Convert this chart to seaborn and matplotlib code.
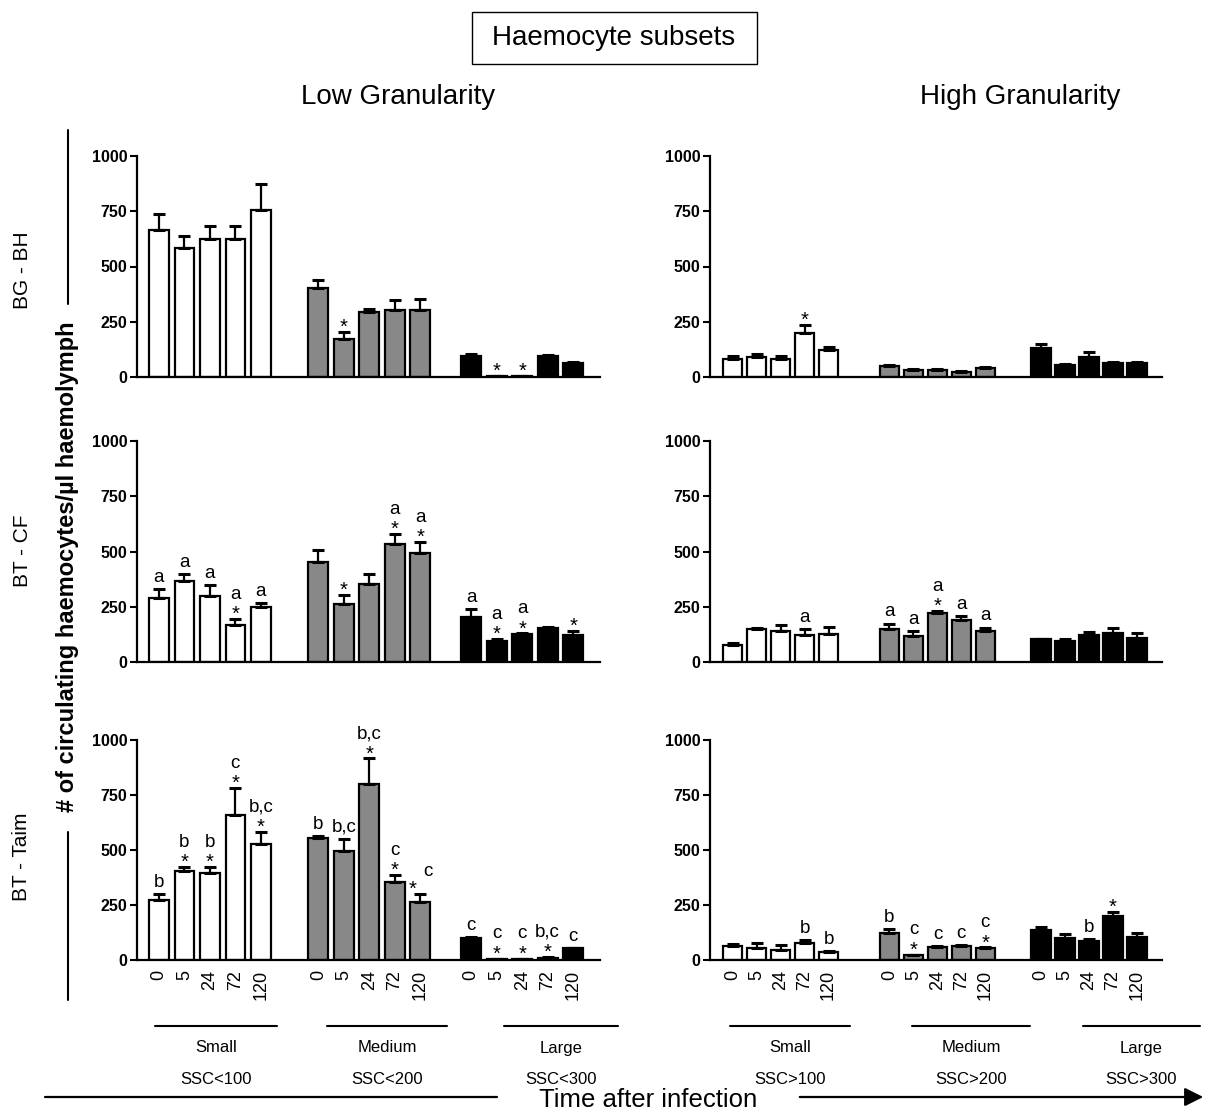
import numpy as np
import pandas as pd
import matplotlib
matplotlib.use("Agg")
import matplotlib.pyplot as plt
import seaborn as sns
from matplotlib.lines import Line2D
from matplotlib.patches import Rectangle, FancyArrowPatch

sns.set_theme(style="ticks")
plt.rcParams["font.family"] = ["Liberation Sans", "DejaVu Sans"]
plt.rcParams.update({
    "text.color": "black",
    "axes.labelcolor": "black",
    "axes.edgecolor": "black",
    "xtick.color": "black",
    "ytick.color": "black",
})

# ---------------- data ----------------
times = ["0", "5", "24", "72", "120"]
sizes = ["Small", "Medium", "Large"]
gates_low = ["SSC<100", "SSC<200", "SSC<300"]
gates_high = ["SSC>100", "SSC>200", "SSC>300"]
rows = ["BG - BH", "BT - CF", "BT - Taim"]
cols = ["Low Granularity", "High Granularity"]
bar_colors = ["white", "#888888", "black"]

# BG - BH
bgbh_low_mean = [[663, 583, 625, 625, 755], [401, 173, 292, 304, 304], [93, 3, 3, 95, 63]]
bgbh_low_sem = [[75, 53, 59, 59, 118], [39, 29, 17, 45, 51], [12, 1, 1, 3, 3]]
bgbh_low_ann = [["", "", "", "", ""], ["", "*", "", "", ""], ["", "*", "*", "", ""]]
bgbh_high_mean = [[80, 90, 80, 201, 120], [51, 32, 30, 23, 41], [131, 53, 92, 65, 63]]
bgbh_high_sem = [[13, 14, 13, 36, 18], [5, 3, 5, 4, 4], [18, 6, 21, 3, 5]]
bgbh_high_ann = [["", "", "", "*", ""], ["", "", "", "", ""], ["", "", "", "", ""]]

# BT - CF
btcf_low_mean = [[290, 368, 299, 169, 249], [451, 262, 354, 534, 495], [204, 94, 125, 155, 122]]
btcf_low_sem = [[39, 32, 49, 26, 19], [54, 43, 46, 44, 46], [34, 9, 4, 2, 18]]
btcf_low_ann = [["a", "a", "a", "a*", "a"], ["", "*", "", "a*", "a*"], ["a", "a*", "a*", "", "*"]]
btcf_high_mean = [[79, 148, 139, 120, 127], [148, 118, 220, 189, 139], [102, 94, 120, 130, 109]]
btcf_high_sem = [[5, 6, 29, 30, 30], [26, 24, 11, 18, 17], [4, 9, 18, 23, 24]]
btcf_high_ann = [["", "", "", "a", ""], ["a", "a", "a*", "a", "a"], ["", "", "", "", ""]]

# BT - Taim
btta_low_mean = [[274, 406, 397, 660, 529], [555, 497, 801, 356, 264], [100, 5, 5, 11, 53]]
btta_low_sem = [[24, 15, 24, 120, 53], [10, 53, 115, 30, 37], [6, 1, 1, 2, 3]]
btta_low_ann = [["b", "b*", "b*", "c*", "b,c*"], ["b", "b,c", "b,c*", "c*", "*c"], ["c", "c*", "c*", "b,c*", "c"]]
btta_high_mean = [[64, 54, 45, 78, 36], [123, 22, 61, 63, 54], [138, 102, 88, 198, 106]]
btta_high_sem = [[8, 24, 22, 12, 6], [16, 3, 3, 7, 3], [13, 18, 6, 19, 17]]
btta_high_ann = [["", "", "", "b", "b"], ["b", "c*", "c", "c", "c*"], ["", "", "b", "*", ""]]

panels = [
    [(bgbh_low_mean, bgbh_low_sem, bgbh_low_ann), (bgbh_high_mean, bgbh_high_sem, bgbh_high_ann)],
    [(btcf_low_mean, btcf_low_sem, btcf_low_ann), (btcf_high_mean, btcf_high_sem, btcf_high_ann)],
    [(btta_low_mean, btta_low_sem, btta_low_ann), (btta_high_mean, btta_high_sem, btta_high_ann)],
]

# ---------------- layout ----------------
W, H = 1213, 1113
fig = plt.figure(figsize=(W / 100, H / 100), dpi=100)

def fx(x):
    return x / W

def fy(y):
    return 1 - y / H

row_px = [(156, 377), (441, 662), (740, 960)]
col_px = [(137, 600), (710, 1162)]
group_offsets = [[0, 6.25, 12.25], [0, 6.54, 12.85]]
xlims = [(-0.86, 17.3), (-0.94, 17.9)]
bar_width = [0.77, 0.81]

FS_ANN = 13.5
FS_STAR = 14.5

for r in range(3):
    for c in range(2):
        top, bot = row_px[r]
        left, right = col_px[c]
        ax = fig.add_axes([fx(left), fy(bot), fx(right - left), (bot - top) / H])
        means, sems, anns = panels[r][c]
        all_pos = []
        for g in range(3):
            pos = group_offsets[c][g] + np.arange(len(times))
            df = pd.DataFrame({"pos": pos, "count": means[g]})
            sns.barplot(data=df, x="pos", y="count", native_scale=True,
                        color=bar_colors[g], edgecolor="black", linewidth=1.6,
                        width=bar_width[c], errorbar=None, saturation=1, ax=ax)
            m = np.array(means[g], dtype=float)
            s = np.array(sems[g], dtype=float)
            ax.errorbar(pos, m, yerr=[np.zeros_like(s), s], fmt="none",
                        ecolor="black", elinewidth=1.6, capsize=4.5, capthick=2.2,
                        zorder=3)
            for p, mm, ss, a in zip(pos, m, s, anns[g]):
                e = mm + ss
                if a == "":
                    continue
                if a == "*":
                    ax.text(p, e - 4, "*", ha="center", va="baseline",
                            fontsize=FS_STAR, clip_on=False)
                elif a.startswith("*") and len(a) > 1:
                    ax.text(p - 0.3, e - 4, "*", ha="center", va="baseline",
                            fontsize=FS_STAR, clip_on=False)
                    ax.text(p + 0.32, e + 80, a[1:], ha="center", va="baseline",
                            fontsize=FS_ANN, clip_on=False)
                elif a.endswith("*"):
                    ax.text(p, e - 4, "*", ha="center", va="baseline",
                            fontsize=FS_STAR, clip_on=False)
                    ax.text(p, e + 92, a[:-1], ha="center", va="baseline",
                            fontsize=FS_ANN, clip_on=False)
                else:
                    ax.text(p, e + 32, a, ha="center", va="baseline",
                            fontsize=FS_ANN, clip_on=False)
            all_pos.extend(pos)
        ax.set_xlim(*xlims[c])
        ax.set_ylim(0, 1000)
        ax.set_yticks([0, 250, 500, 750, 1000])
        ax.set_yticklabels(["0", "250", "500", "750", "1000"], fontweight="bold", fontsize=11.5)
        ax.set_xlabel("")
        ax.set_ylabel("")
        ax.set_xticks(all_pos)
        if r == 2:
            ax.set_xticklabels(times * 3, rotation=90, fontsize=13)
        else:
            ax.set_xticklabels([""] * len(all_pos))
        ax.tick_params(axis="x", length=0, pad=7)
        ax.tick_params(axis="y", length=5, width=1.5, pad=2)
        for sp in ["top", "right"]:
            ax.spines[sp].set_visible(False)
        for sp in ["left", "bottom"]:
            ax.spines[sp].set_linewidth(1.6)
            ax.spines[sp].set_color("black")
        ax.set_facecolor("none")

# ---------------- annotations ----------------
fig.add_artist(Rectangle((fx(472), fy(64)), 285 / W, 52 / H, transform=fig.transFigure,
                         fill=False, ec="black", lw=1.0))
fig.text(fx(614), fy(38), "Haemocyte subsets", ha="center", va="center", fontsize=20)
fig.text(fx(398), fy(97), cols[0], ha="center", va="center", fontsize=20)
fig.text(fx(1020), fy(97), cols[1], ha="center", va="center", fontsize=20)

for lbl, yc in zip(rows, [270, 551, 857]):
    fig.text(fx(22), fy(yc), lbl, rotation=90, ha="center", va="center", fontsize=15)

fig.text(fx(68), fy(567), "# of circulating haemocytes/µl haemolymph", rotation=90,
         ha="center", va="center", fontsize=17, fontweight="bold")
fig.add_artist(Line2D([fx(68), fx(68)], [fy(130), fy(304)], transform=fig.transFigure,
                      color="black", lw=1.5))
fig.add_artist(Line2D([fx(68), fx(68)], [fy(832), fy(1000)], transform=fig.transFigure,
                      color="black", lw=1.5))

under_lines = [(155, 277), (327, 447), (504, 618), (730, 850), (912, 1030), (1083, 1200)]
group_names = sizes + sizes
group_gates = gates_low + gates_high
for (x0, x1), nm, gt in zip(under_lines, group_names, group_gates):
    fig.add_artist(Line2D([fx(x0), fx(x1)], [fy(1026), fy(1026)], transform=fig.transFigure,
                          color="black", lw=1.5))
    xc = (x0 + x1) / 2
    fig.text(fx(xc), fy(1048), nm, ha="center", va="center", fontsize=12)
    fig.text(fx(xc), fy(1079), gt, ha="center", va="center", fontsize=12)

fig.add_artist(Line2D([fx(45), fx(497)], [fy(1097), fy(1097)], transform=fig.transFigure,
                      color="black", lw=1.6))
fig.text(fx(648), fy(1100), "Time after infection", ha="center", va="center", fontsize=18.5)
fig.add_artist(FancyArrowPatch((fx(797), fy(1097)), (fx(1206), fy(1097)),
                               transform=fig.transFigure, arrowstyle="-|>",
                               mutation_scale=28, lw=1.6, color="black"))

fig.savefig("out.png", dpi=100, facecolor="white")
